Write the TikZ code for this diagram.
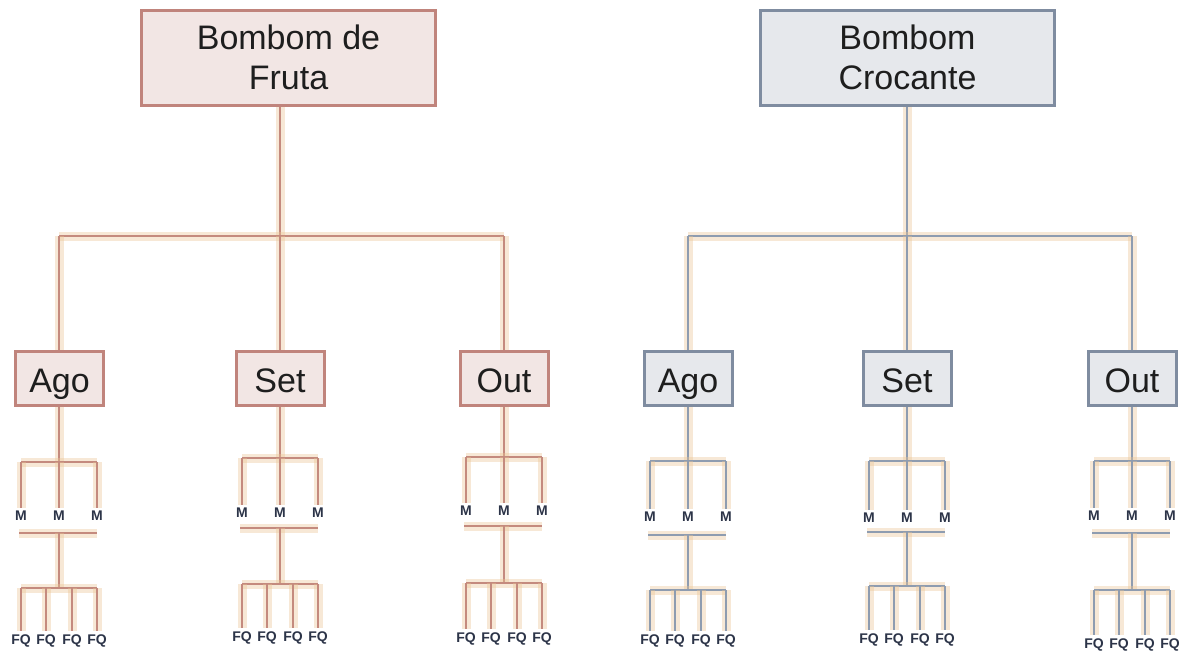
\documentclass[tikz,border=0pt]{standalone}
\usepackage{fontspec}
\setmainfont{Liberation Sans}
\definecolor{lfill}{HTML}{F2E6E4}
\definecolor{ldraw}{HTML}{C0847C}
\definecolor{rfill}{HTML}{E6E8EC}
\definecolor{rdraw}{HTML}{7F8CA0}
\definecolor{lline}{HTML}{C48A7E}
\definecolor{rline}{HTML}{8E9CB0}
\definecolor{glowc}{HTML}{EBC594}
\definecolor{txt}{HTML}{1E1E1E}
\definecolor{lab}{HTML}{2C3448}
\newcommand\subtr[8]{%
  % #1 month node, #2 cx, #3 M bracket y, #4 M label y, #5 separator y, #6 FQ bracket y, #7 FQ label y, #8 line style
  \coordinate (#1h) at (#2,#3);
  \coordinate (#1hl) at (#2-38,#3);
  \coordinate (#1hr) at (#2+38,#3);
  \node[mlab] (#1m1) at (#2-38,#4) {M};
  \node[mlab] (#1m2) at (#2,#4) {M};
  \node[mlab] (#1m3) at (#2+38,#4) {M};
  \draw[#8] (#1.south -| #1h) -- (#1h);
  \draw[#8] (#1hl) -- (#1hr);
  \draw[#8] (#1hl) -- (#1m1.north);
  \draw[#8] (#1h) -- (#1m2.north);
  \draw[#8] (#1hr) -- (#1m3.north);
  \coordinate (#1sl) at (#2-40,#5);
  \coordinate (#1sr) at (#2+38,#5);
  \coordinate (#1s) at (#2,#5);
  \draw[#8] (#1sl) -- (#1sr);
  \coordinate (#1f) at (#2,#6);
  \coordinate (#1fl) at (#2-38,#6);
  \coordinate (#1fr) at (#2+38,#6);
  \coordinate (#1f2) at (#2-13,#6);
  \coordinate (#1f3) at (#2+13,#6);
  \draw[#8] (#1s) -- (#1f);
  \draw[#8] (#1fl) -- (#1fr);
  \node[mlab] (#1q1) at (#2-38,#7) {FQ};
  \node[mlab] (#1q2) at (#2-13,#7) {FQ};
  \node[mlab] (#1q3) at (#2+13,#7) {FQ};
  \node[mlab] (#1q4) at (#2+38,#7) {FQ};
  \draw[#8] (#1fl) -- (#1q1.north);
  \draw[#8] (#1f2) -- (#1q2.north);
  \draw[#8] (#1f3) -- (#1q3.north);
  \draw[#8] (#1fr) -- (#1q4.north);
}
\begin{document}
\begin{tikzpicture}[x=0.5pt,y=-0.5pt,
  topL/.style={draw=ldraw, fill=lfill, line width=1.5pt, minimum width=147pt, minimum height=47.5pt, inner sep=0pt, align=center, text=txt, font=\fontsize{17}{20}\selectfont},
  topR/.style={topL, draw=rdraw, fill=rfill},
  monL/.style={draw=ldraw, fill=lfill, line width=1.5pt, minimum width=44pt, minimum height=27pt, inner sep=0pt, text height=14pt, text depth=0pt, text=txt, font=\fontsize{17}{20}\selectfont},
  monR/.style={monL, draw=rdraw, fill=rfill},
  mlab/.style={inner sep=1.5pt, text=lab, font=\fontsize{7}{8}\selectfont\bfseries},
  connL/.style={draw=lline, line width=1.1pt, preaction={draw=glowc, line width=4.5pt, draw opacity=0.38}},
  connR/.style={draw=rline, line width=1.1pt, preaction={draw=glowc, line width=4.5pt, draw opacity=0.38}}
]
\useasboundingbox (0,0) rectangle (1189,655);
\fill[white] (0,0) rectangle (1189,655);

% top boxes
\node[topL] (bf) at (288.5,57.5) {Bombom de\\Fruta};
\node[topR] (bc) at (907.5,57.5) {Bombom\\Crocante};

% month boxes
\node[monL] (la) at (59.5,378) {Ago};
\node[monL] (ls) at (280,378) {Set};
\node[monL] (lo) at (504,378) {Out};
\node[monR] (ra) at (688,378) {Ago};
\node[monR] (rs) at (907,378) {Set};
\node[monR] (ro) at (1132,378) {Out};

% left top connectors
\coordinate (jl) at (280,236);
\coordinate (jla) at (59,236);
\coordinate (jlo) at (504,236);
\draw[connL] (bf.south -| jl) -- (jl);
\draw[connL] (jla) -- (jlo);
\draw[connL] (jla) -- (la.north -| jla);
\draw[connL] (jl) -- (ls.north);
\draw[connL] (jlo) -- (lo.north);

% right top connectors
\coordinate (jr) at (907,236);
\coordinate (jra) at (688,236);
\coordinate (jro) at (1132,236);
\draw[connR] (bc.south -| jr) -- (jr);
\draw[connR] (jra) -- (jro);
\draw[connR] (jra) -- (ra.north);
\draw[connR] (jr) -- (rs.north);
\draw[connR] (jro) -- (ro.north);

% subtrees
\subtr{la}{59}{462}{516}{533}{588}{641}{connL}
\subtr{ls}{280}{458}{513}{528}{584}{638}{connL}
\subtr{lo}{504}{457}{511}{526}{583}{639}{connL}
\subtr{ra}{688}{461}{517}{535}{590}{641}{connR}
\subtr{rs}{907}{461}{518}{532}{586}{640}{connR}
\subtr{ro}{1132}{461}{516}{533}{590}{645}{connR}
\end{tikzpicture}
\end{document}
